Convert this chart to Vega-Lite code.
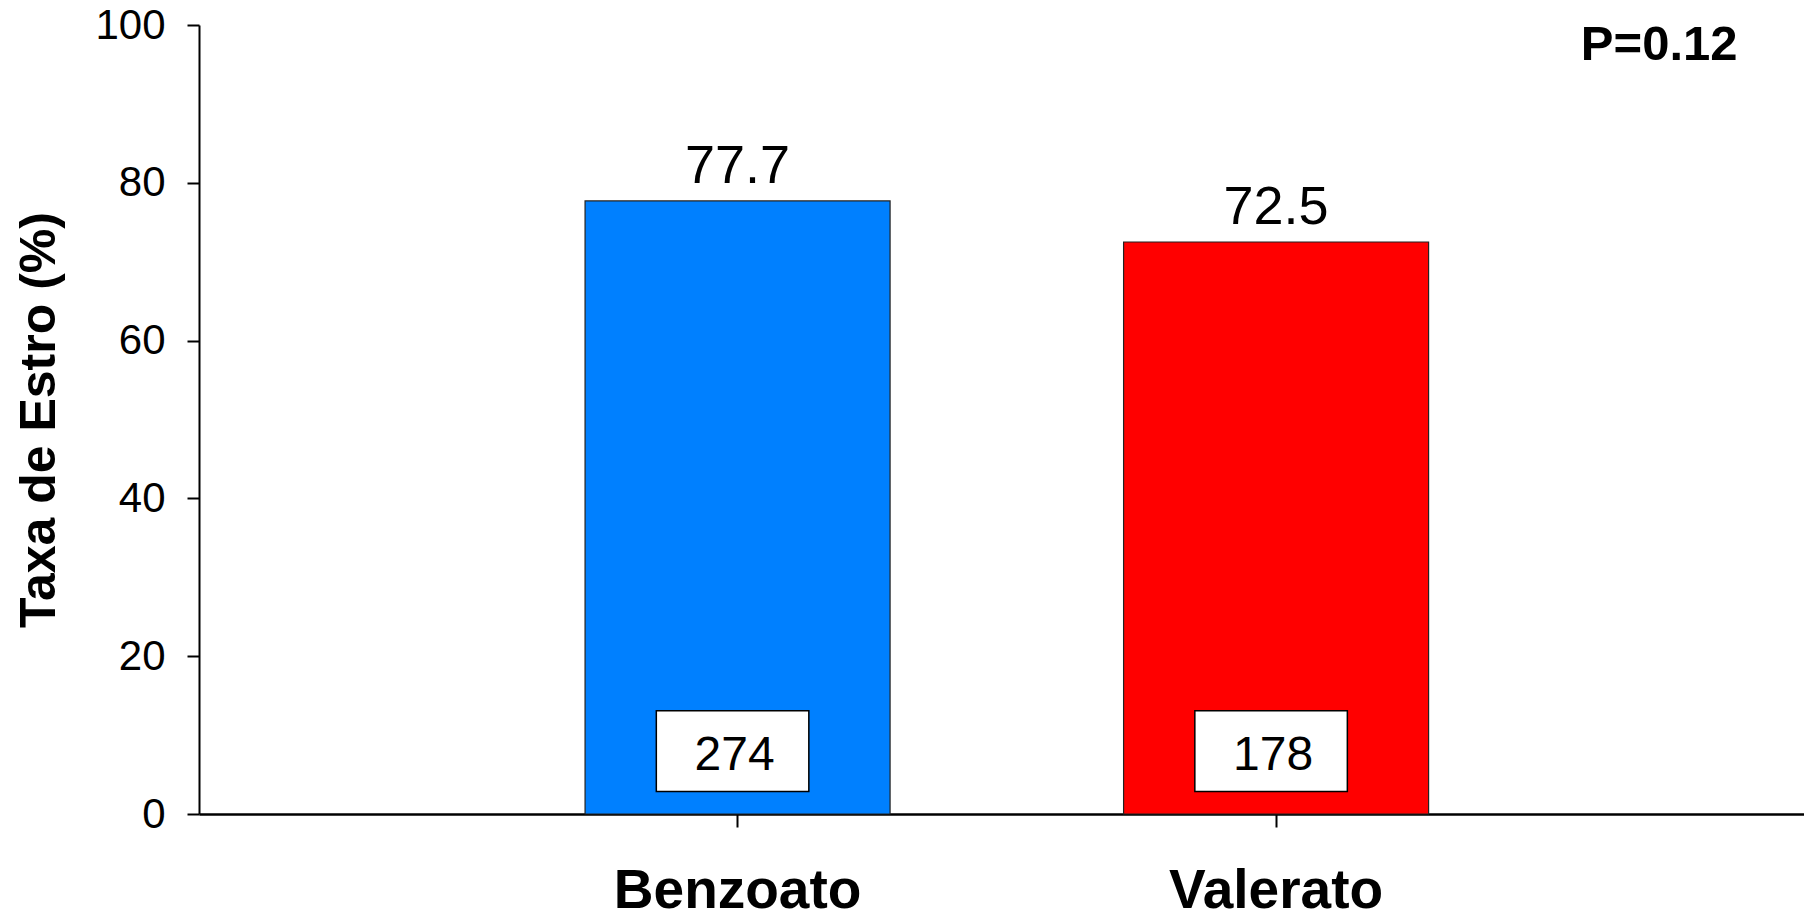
{
  "$schema": "https://vega.github.io/schema/vega-lite/v6.json",
  "width": 1605,
  "height": 789,
  "autosize": {"type": "none"},
  "padding": {"left": 199, "top": 25, "right": 0, "bottom": 98},
  "background": "white",
  "config": {
    "view": {"stroke": null},
    "font": "Liberation Sans"
  },
  "data": {
    "values": [
      {"grupo": "Benzoato", "taxa": 77.7, "n": 274},
      {"grupo": "Valerato", "taxa": 72.5, "n": 178}
    ]
  },
  "encoding": {
    "x": {
      "field": "grupo",
      "type": "nominal",
      "sort": null,
      "scale": {"paddingInner": 0.4336, "paddingOuter": 0.707, "align": 0.507},
      "axis": {
        "title": "P=0.12",
        "titleX": 1538,
        "titleY": -755,
        "titleAlign": "right",
        "titleAnchor": null,
        "titleBaseline": "alphabetic",
        "titleAngle": 0,
        "titleFontSize": 49,
        "titleFontWeight": "bold",
        "titleColor": "black",
        "titleFont": "Liberation Sans",
        "labelAngle": 0,
        "labelLimit": 0,
        "labelFontSize": 55,
        "labelFontWeight": "bold",
        "labelColor": "black",
        "labelFont": "Liberation Sans",
        "labelPadding": 37,
        "tickSize": 13,
        "tickWidth": 2,
        "tickColor": "black",
        "domainColor": "black",
        "domainWidth": 2.5
      }
    }
  },
  "layer": [
    {
      "mark": {"type": "bar", "stroke": "#222222", "strokeWidth": 1.2},
      "encoding": {
        "y": {
          "field": "taxa",
          "type": "quantitative",
          "scale": {"domain": [0, 100], "nice": false},
          "axis": {
            "title": "Taxa de Estro (%)",
            "titleFontSize": 50,
            "titleFontWeight": "bold",
            "titleColor": "black",
            "titleFont": "Liberation Sans",
            "titlePadding": 30,
            "values": [0, 20, 40, 60, 80, 100],
            "grid": false,
            "labelFontSize": 42,
            "labelColor": "black",
            "labelFont": "Liberation Sans",
            "labelPadding": 22,
            "tickSize": 12,
            "tickWidth": 2,
            "tickColor": "black",
            "domainColor": "black",
            "domainWidth": 2
          }
        },
        "color": {
          "field": "grupo",
          "type": "nominal",
          "scale": {"domain": ["Benzoato", "Valerato"], "range": ["#0080FF", "#FF0000"]},
          "legend": null
        }
      }
    },
    {
      "mark": {"type": "text", "baseline": "alphabetic", "dy": -18, "fontSize": 54, "color": "black", "font": "Liberation Sans"},
      "encoding": {
        "y": {"field": "taxa", "type": "quantitative"},
        "text": {"field": "taxa", "type": "quantitative", "format": ".1f"}
      }
    },
    {
      "mark": {"type": "bar", "fill": "white", "stroke": "black", "strokeWidth": 1.5, "width": {"band": 0.5}, "xOffset": -5},
      "encoding": {
        "y": {"datum": 2.85, "type": "quantitative"},
        "y2": {"datum": 13.1}
      }
    },
    {
      "mark": {"type": "text", "baseline": "alphabetic", "fontSize": 48, "color": "black", "font": "Liberation Sans", "xOffset": -3},
      "encoding": {
        "y": {"datum": 5.6, "type": "quantitative"},
        "text": {"field": "n", "type": "quantitative"}
      }
    }
  ]
}
